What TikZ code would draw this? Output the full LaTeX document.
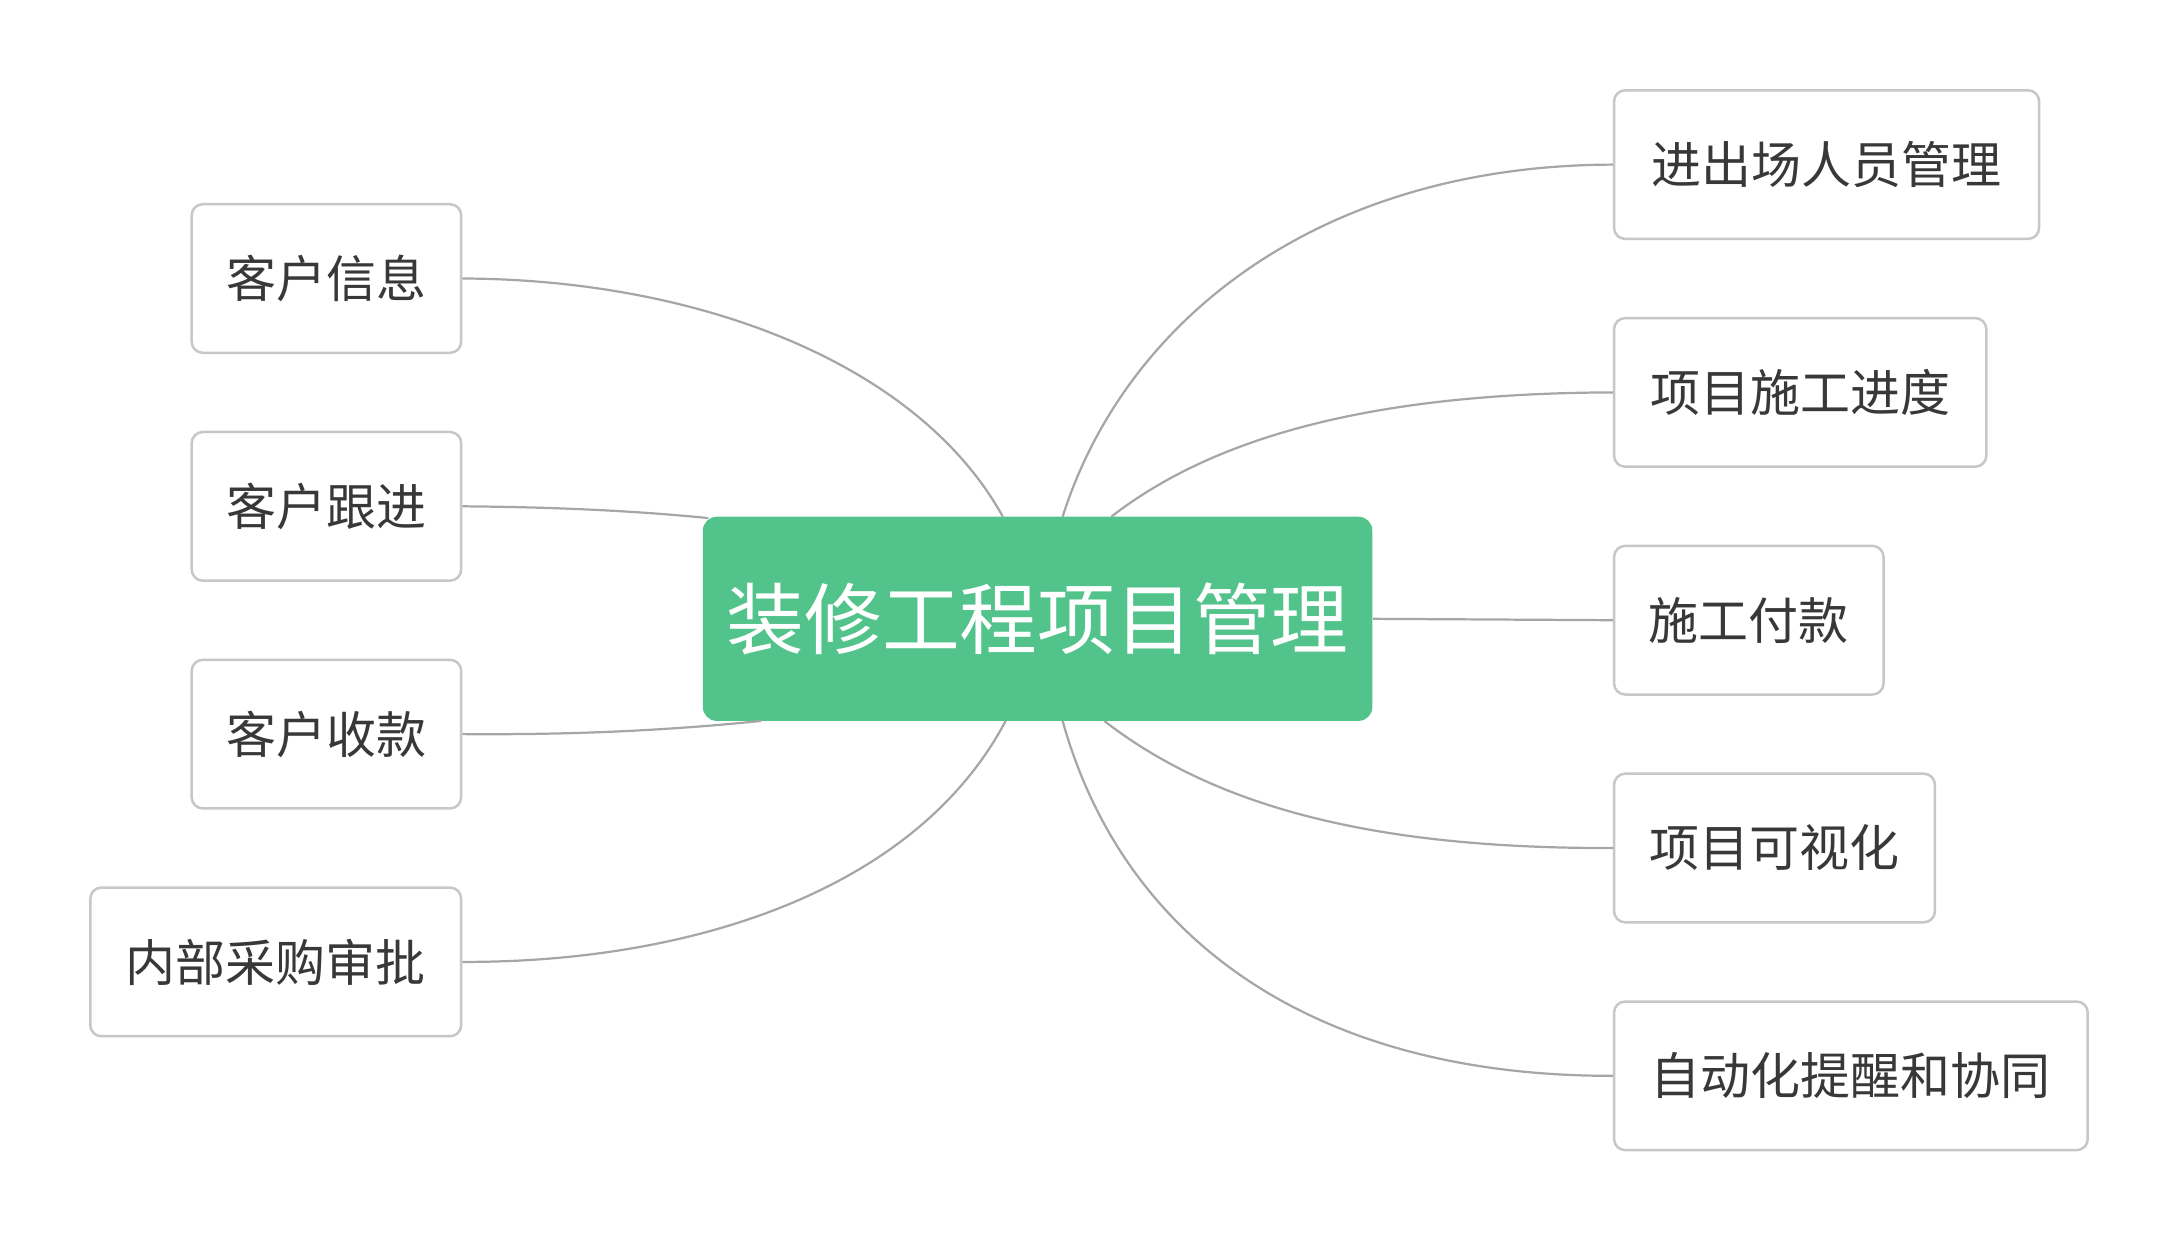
\documentclass[tikz,border=0pt]{standalone}
\usepackage{fontspec}
\setmainfont{Noto Sans CJK SC}
\begin{document}
\begin{tikzpicture}[x=0.5pt,y=-0.5pt,
 leaf/.style={draw=black!22,line width=0.9pt,rounded corners=4pt,fill=white,text=black!78,font=\fontsize{18}{20}\selectfont,inner sep=0pt},
 conn/.style={draw=black!35,line width=0.8pt}]
\useasboundingbox (0,0) rectangle (1568,894);
\node[fill={rgb,255:red,82;green,195;blue,139},rounded corners=5pt,text=white,font=\fontsize{28}{30}\selectfont,minimum width=241pt,minimum height=73.5pt,inner sep=0pt] (c) at (747,445.5) {装修工程项目管理};
\node[leaf,minimum width=97pt,minimum height=53.5pt] (l1) at (235,200.5) {客户信息};
\node[leaf,minimum width=97pt,minimum height=53.5pt] (l2) at (235,364.5) {客户跟进};
\node[leaf,minimum width=97pt,minimum height=53.5pt] (l3) at (235,528.5) {客户收款};
\node[leaf,minimum width=133.5pt,minimum height=53.5pt] (l4) at (198.5,692.5) {内部采购审批};
\node[leaf,minimum width=153pt,minimum height=53.5pt] (r1) at (1315,118.5) {进出场人员管理};
\node[leaf,minimum width=134pt,minimum height=53.5pt] (r2) at (1296,282.5) {项目施工进度};
\node[leaf,minimum width=97pt,minimum height=53.5pt] (r3) at (1259,446.5) {施工付款};
\node[leaf,minimum width=115.5pt,minimum height=53.5pt] (r4) at (1277.5,610.5) {项目可视化};
\node[leaf,minimum width=170.5pt,minimum height=53.5pt] (r5) at (1332.5,774.5) {自动化提醒和协同};
\coordinate (a1) at (722,372);
\coordinate (a2) at (510,373);
\coordinate (a3) at (548,519);
\coordinate (a4) at (724,519);
\coordinate (b1) at (765,372);
\coordinate (b2) at (800,372);
\coordinate (b4) at (795,519);
\coordinate (b5) at (765,519);
\begin{scope}[on background layer/.style={}]
\draw[conn] (a1) .. controls (660,260) and (500,201) .. (l1.east);
\draw[conn] (a2) .. controls (450,367) and (390,365) .. (l2.east);
\draw[conn] (a3) .. controls (470,527) and (400,529) .. (l3.east);
\draw[conn] (a4) .. controls (660,640) and (500,693) .. (l4.east);
\draw[conn] (b1) .. controls (810,230) and (950,119) .. (r1.west);
\draw[conn] (b2) .. controls (880,310) and (1000,283) .. (r2.west);
\draw[conn] (c.east) -- (r3.west);
\draw[conn] (b4) .. controls (880,585) and (1000,611) .. (r4.west);
\draw[conn] (b5) .. controls (810,680) and (950,775) .. (r5.west);
\end{scope}
\end{tikzpicture}
\end{document}
